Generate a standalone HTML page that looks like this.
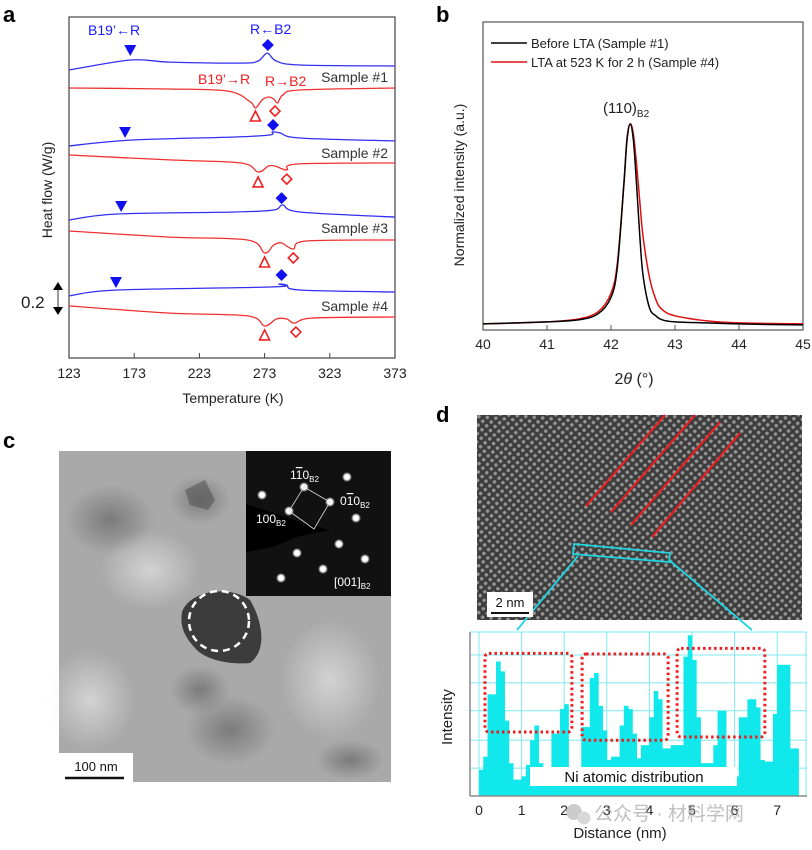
<!DOCTYPE html>
<html><head><meta charset="utf-8"><style>
html,body{margin:0;padding:0;background:#fff;}
svg{display:block;font-family:"Liberation Sans","Noto Sans CJK SC",sans-serif;}
</style></head><body>
<svg id="fig" width="812" height="850" viewBox="0 0 812 850" xmlns="http://www.w3.org/2000/svg">
<defs>
  <radialGradient id="spot"><stop offset="0" stop-color="#fff"/><stop offset="0.5" stop-color="#fff"/><stop offset="1" stop-color="#fff" stop-opacity="0"/></radialGradient>
  <pattern id="lattice" width="6" height="6" patternUnits="userSpaceOnUse" patternTransform="rotate(-40)">
    <rect width="6" height="6" fill="#3a3a3a"/><circle cx="3" cy="3" r="1.8" fill="#b8b8b8"/>
  </pattern>
  <radialGradient id="blobDark"><stop offset="0" stop-color="#555" stop-opacity="0.55"/><stop offset="1" stop-color="#555" stop-opacity="0"/></radialGradient>
  <radialGradient id="blobLight"><stop offset="0" stop-color="#eee" stop-opacity="0.6"/><stop offset="1" stop-color="#eee" stop-opacity="0"/></radialGradient>
</defs>

<text x="3" y="22" font-size="22" font-weight="bold">a</text>
<text x="436" y="22" font-size="22" font-weight="bold">b</text>
<text x="3" y="448" font-size="22" font-weight="bold">c</text>
<text x="436" y="422" font-size="22" font-weight="bold">d</text>

<g id="pa">
  <rect x="69" y="17" width="326" height="341" fill="none" stroke="#444" stroke-width="1.2"/>
  <g id="pa-ticks"></g>
  <text x="233" y="403" font-size="14" text-anchor="middle" fill="#222">Temperature (K)</text>
  <text transform="translate(52,190) rotate(-90)" font-size="14" text-anchor="middle" fill="#222">Heat flow (W/g)</text>
  <g id="pa-curves"></g>
  <g id="pa-markers"></g>
  <text x="88" y="35" font-size="14" fill="#1a1aff">B19’←R</text>
  <text x="250" y="34" font-size="14" fill="#1a1aff">R←B2</text>
  <text x="198" y="84" font-size="14" fill="#f02020">B19’→R</text>
  <text x="265" y="86" font-size="14" fill="#f02020">R→B2</text>
  <text x="388" y="82" font-size="14" text-anchor="end" fill="#333">Sample #1</text>
  <text x="388" y="158" font-size="14" text-anchor="end" fill="#333">Sample #2</text>
  <text x="388" y="233" font-size="14" text-anchor="end" fill="#333">Sample #3</text>
  <text x="388" y="311" font-size="14" text-anchor="end" fill="#333">Sample #4</text>
  <g>
    <line x1="58" y1="288" x2="58" y2="309" stroke="#333" stroke-width="1"/>
    <polygon points="53,290 63,290 58,282" fill="#000"/>
    <polygon points="53,307 63,307 58,315" fill="#000"/>
    <text x="21" y="308" font-size="17" fill="#222">0.2</text>
  </g>
</g>

<g id="pb">
  <rect x="483" y="22" width="320" height="308" fill="none" stroke="#555" stroke-width="1.2"/>
  <g id="pb-ticks"></g>
  <g id="pb-curves"></g>
  <text transform="translate(464,185) rotate(-90)" font-size="14" text-anchor="middle" fill="#222">Normalized intensity (a.u.)</text>
  <text x="634" y="384" font-size="16" text-anchor="middle" fill="#222">2<tspan font-style="italic">θ</tspan> (°)</text>
  <text x="603" y="113" font-size="15" fill="#222">(110)<tspan font-size="10" dy="4">B2</tspan></text>
  <g>
    <line x1="491" y1="43" x2="527" y2="43" stroke="#000" stroke-width="1.5"/>
    <text x="531" y="48" font-size="13" fill="#222">Before LTA (Sample #1)</text>
    <line x1="491" y1="62" x2="527" y2="62" stroke="#e01010" stroke-width="1.5"/>
    <text x="531" y="67" font-size="13" fill="#222">LTA at 523 K for 2 h (Sample #4)</text>
  </g>
</g>

<g>
  <rect x="59" y="451" width="332" height="331" fill="#a9a9a9"/>
  <ellipse cx="110" cy="520" rx="45" ry="35" fill="url(#blobDark)"/>
  <ellipse cx="200" cy="500" rx="30" ry="25" fill="url(#blobDark)"/>
  <ellipse cx="150" cy="570" rx="50" ry="40" fill="url(#blobLight)"/>
  <ellipse cx="90" cy="700" rx="45" ry="50" fill="url(#blobLight)"/>
  <ellipse cx="230" cy="730" rx="45" ry="35" fill="url(#blobDark)"/>
  <ellipse cx="330" cy="680" rx="50" ry="60" fill="url(#blobLight)"/>
  <ellipse cx="200" cy="690" rx="30" ry="25" fill="url(#blobDark)"/>
  <ellipse cx="350" cy="760" rx="35" ry="20" fill="url(#blobDark)"/>
  <polygon points="185,490 205,480 215,500 208,510 190,505" fill="#555" opacity="0.6"/>
  <path d="M182,612 C190,590 230,585 250,600 C262,620 268,650 250,663 C230,665 205,660 195,648 C183,635 180,625 182,612 Z" fill="#3c3c3c"/>
  <circle cx="219" cy="621" r="30" fill="none" stroke="#fff" stroke-width="2.5" stroke-dasharray="7,5"/>
  <g>
    <rect x="246" y="451" width="145" height="145" fill="#111"/>
    <path d="M246,504 L300,522 L330,530 L300,536 L270,548 L246,552 Z" fill="#000"/>
    <g id="spots"></g>
    <polygon points="304,487 330,502 314,529 289,511" fill="none" stroke="#ddd" stroke-width="0.8"/>
    <text x="290" y="479" font-size="12" fill="#fff">1<tspan text-decoration="overline">1</tspan>0<tspan font-size="8" dy="3">B2</tspan></text>
    <text x="340" y="505" font-size="12" fill="#fff">0<tspan text-decoration="overline">1</tspan>0<tspan font-size="8" dy="3">B2</tspan></text>
    <text x="256" y="523" font-size="12" fill="#fff">100<tspan font-size="8" dy="3">B2</tspan></text>
    <text x="334" y="586" font-size="12" fill="#fff">[001]<tspan font-size="8" dy="3">B2</tspan></text>
  </g>
  <rect x="59" y="753" width="74" height="29" fill="#fff"/>
  <text x="96" y="771" font-size="13" text-anchor="middle" fill="#111">100 nm</text>
  <line x1="65" y1="778" x2="124" y2="778" stroke="#111" stroke-width="2.5"/>
</g>

<g>
  <rect x="477" y="415" width="325" height="205" fill="url(#lattice)"/>
  <rect x="477" y="415" width="325" height="205" fill="#444" opacity="0.3"/>
  <g stroke="#e52020" stroke-width="2.2">
    <line x1="586" y1="506" x2="665" y2="415"/>
    <line x1="611" y1="512" x2="695" y2="415"/>
    <line x1="631" y1="525" x2="720" y2="422"/>
    <line x1="652" y1="537" x2="740" y2="433"/>
  </g>
  <polygon points="574,544 670,553 669,562 573,554" fill="none" stroke="#22d4e0" stroke-width="1.8"/>
  <line x1="578" y1="556" x2="517" y2="630" stroke="#22d4e0" stroke-width="1.8"/>
  <line x1="669" y1="560" x2="752" y2="630" stroke="#22d4e0" stroke-width="1.8"/>
  <rect x="487" y="592" width="46" height="25" fill="#fff"/>
  <text x="510" y="607" font-size="13" text-anchor="middle" fill="#111">2 nm</text>
  <line x1="491" y1="613" x2="529" y2="613" stroke="#111" stroke-width="2"/>
</g>

<g id="pd">
  <g id="pd-grid"></g>
  <g id="pd-bars"></g>
  <g id="pd-rects"></g>
  <line x1="470" y1="632" x2="470" y2="796" stroke="#888" stroke-width="1.5"/>
  <line x1="470" y1="796" x2="807" y2="796" stroke="#888" stroke-width="1.5"/>
  <rect x="530" y="767" width="207" height="19" fill="#fff"/>
  <text x="634" y="782" font-size="15" text-anchor="middle" fill="#111">Ni atomic distribution</text>
  <g id="pd-ticks"></g>
  <text transform="translate(452,717) rotate(-90)" font-size="15" text-anchor="middle" fill="#222">Intensity</text>
  <text x="620" y="838" font-size="15" text-anchor="middle" fill="#222">Distance (nm)</text>
</g>

<g opacity="0.75">
  <circle cx="574" cy="812" r="8" fill="#bbb"/><circle cx="584" cy="818" r="6.5" fill="#ccc"/>
  <text x="594" y="820" font-size="19" fill="#aaa">公众号 · 材料学网</text>
</g>
</svg>
<script>
const NS='http://www.w3.org/2000/svg';
const dscTicks=[123,173,223,273,323,373];
const b1T=[123,170,200,255,268,275,282,300,373];
const b1V=[1.986,2.055,2.041,2.034,2.048,2.103,2.048,2.021,2.014];
const r1T=[123,200,245,262,266,271,276,280,283,287,300,373];
const r1V=[1.862,1.855,1.841,1.766,1.724,1.779,1.800,1.786,1.759,1.814,1.848,1.862];
const b2T=[123,170,250,277,279,285,300,373];
const b2V=[1.462,1.503,1.524,1.538,1.559,1.552,1.517,1.497];
const r2T=[123,200,255,268,276,281,290,298,373];
const r2V=[1.400,1.366,1.345,1.283,1.324,1.324,1.297,1.338,1.345];
const b3T=[123,160,250,280,287,300,373];
const b3V=[0.952,0.993,1.007,1.021,1.055,1.007,0.972];
const r3T=[123,200,260,273,280,286,295,305,373];
const r3V=[0.876,0.834,0.814,0.724,0.779,0.793,0.752,0.807,0.814];
const b4T=[123,160,280,284,290,300,373];
const b4V=[0.428,0.469,0.490,0.510,0.503,0.469,0.455];
const r4T=[123,200,260,273,282,290,296,310,373];
const r4V=[0.359,0.310,0.290,0.221,0.269,0.269,0.241,0.276,0.283];
const invTriT=[170,166,163,159];
const invTriV=[2.124,1.559,1.048,0.524];
const fDiaT=[275.5,279.5,286,286];
const fDiaV=[2.159,1.607,1.103,0.572];
const oTriT=[266,268,273,273];
const oTriV=[1.669,1.214,0.662,0.159];
const oDiaT=[281,290,295,297];
const oDiaV=[1.703,1.234,0.690,0.179];
const xrdTicks=[40,41,42,43,44,45];
const tth=[40,41,41.5,41.8,42.0,42.1,42.2,42.25,42.3,42.35,42.4,42.45,42.5,42.6,42.7,42.8,43,43.5,44,45];
const intBefore=[0.02,0.03,0.04,0.07,0.15,0.3,0.7,0.92,1,0.92,0.7,0.45,0.26,0.1,0.06,0.04,0.03,0.025,0.02,0.015];
const intLTA=[0.02,0.03,0.045,0.08,0.17,0.32,0.7,0.93,1,0.95,0.8,0.62,0.45,0.25,0.14,0.09,0.06,0.035,0.025,0.02];
const profTicks=[0,1,2,3,4,5,6,7];
const binWidth=0.1;
const profVals=[1.6,2.4,6.2,6.2,8.2,7.6,4.6,2.0,1.0,1.0,1.2,1.9,3.4,4.3,2.0,1.5,1.5,3.8,3.8,5.3,5.6,1.0,0.8,0.8,4.2,4.2,7.2,7.5,5.5,4.0,2.2,2.4,2.4,4.3,5.5,5.3,3.8,2.3,3.1,3.1,4.8,6.4,5.9,2.9,2.9,3.1,3.1,3.1,8.5,9.8,8.3,4.8,2.0,2.0,2.0,3.1,5.2,5.2,1.5,1.5,1.2,4.8,4.8,5.9,5.9,5.4,2.2,2.1,2.1,5.0,8.0,8.0,8.0,2.9,2.9];
const boxX0=[0.14,2.42,4.65];
const boxX1=[2.18,4.44,6.71];
const boxY0=[3.9,3.4,3.6];
const boxY1=[8.7,8.66,9.0];
const spotX=[304,330,289,262,347,356,339,297,365,323,281];
const spotY=[487,502,511,495,477,518,544,553,559,569,578];

function el(tag,attrs,parent){const e=document.createElementNS(NS,tag);for(const k in attrs)e.setAttribute(k,attrs[k]);parent.appendChild(e);return e;}
function smooth(pts){let d='M'+pts[0][0].toFixed(1)+','+pts[0][1].toFixed(1);
  for(let i=0;i<pts.length-1;i++){const p0=pts[Math.max(0,i-1)],p1=pts[i],p2=pts[i+1],p3=pts[Math.min(pts.length-1,i+2)];
    const c1=[p1[0]+(p2[0]-p0[0])/6,p1[1]+(p2[1]-p0[1])/6],c2=[p2[0]-(p3[0]-p1[0])/6,p2[1]-(p3[1]-p1[1])/6];
    d+=' C'+c1[0].toFixed(1)+','+c1[1].toFixed(1)+' '+c2[0].toFixed(1)+','+c2[1].toFixed(1)+' '+p2[0].toFixed(1)+','+p2[1].toFixed(1);}
  return d;}

const ax=t=>69+(t-123)*326/250, ay=v=>358-v*145;
const paT=document.getElementById('pa-ticks');
dscTicks.forEach(t=>{
  const l=el('line',{x1:ax(t),x2:ax(t),y1:358,y2:353,stroke:'#444'},paT);
  
  
  const tx=el('text',{x:ax(t),y:378,'font-size':14,'text-anchor':'middle',fill:'#222'},paT);tx.textContent=t;
  
  
});
const paC=document.getElementById('pa-curves');
[[b1T,b1V,'#3030f0','blue-1'],[r1T,r1V,'#f03030','red-1'],[b2T,b2V,'#3030f0','blue-2'],[r2T,r2V,'#f03030','red-2'],
 [b3T,b3V,'#3030f0','blue-3'],[r3T,r3V,'#f03030','red-3'],[b4T,b4V,'#3030f0','blue-4'],[r4T,r4V,'#f03030','red-4']].forEach(s=>{
  const p=el('path',{d:smooth(s[0].map((t,i)=>[ax(t),ay(s[1][i])])),fill:'none',stroke:s[2],'stroke-width':1.3},paC);
  
  
});
const paM=document.getElementById('pa-markers');
invTriT.forEach((t,i)=>{const x=ax(t),y=ay(invTriV[i]);
  const m=el('polygon',{points:`${x-6},${y-5} ${x+6},${y-5} ${x},${y+6}`,fill:'#1010f0'},paM);
  
  });
fDiaT.forEach((t,i)=>{const x=ax(t),y=ay(fDiaV[i]);
  const m=el('polygon',{points:`${x},${y-6} ${x+6},${y} ${x},${y+6} ${x-6},${y}`,fill:'#1010f0'},paM);
  
  });
oTriT.forEach((t,i)=>{const x=ax(t),y=ay(oTriV[i]);
  const m=el('polygon',{points:`${x-5},${y+5} ${x+5},${y+5} ${x},${y-5}`,fill:'#fff',stroke:'#f02020','stroke-width':1.6},paM);
  
  });
oDiaT.forEach((t,i)=>{const x=ax(t),y=ay(oDiaV[i]);
  const m=el('polygon',{points:`${x},${y-5} ${x+5},${y} ${x},${y+5} ${x-5},${y}`,fill:'#fff',stroke:'#f02020','stroke-width':1.6},paM);
  
  });

const bx=t=>483+(t-40)*64, by=v=>328-v*204;
const pbT=document.getElementById('pb-ticks');
xrdTicks.forEach(t=>{
  const l=el('line',{x1:bx(t),x2:bx(t),y1:330,y2:325,stroke:'#555'},pbT);
  
  
  const tx=el('text',{x:bx(t),y:349,'font-size':14,'text-anchor':'middle',fill:'#222'},pbT);tx.textContent=t;
  
  
});
const pbC=document.getElementById('pb-curves');
[[intLTA,'#e01010','xrd-curve-lta'],[intBefore,'#000','xrd-curve-before']].forEach(s=>{
  const p=el('path',{d:smooth(tth.map((t,i)=>[bx(t),by(s[0][i])])),fill:'none',stroke:s[1],'stroke-width':1.5},pbC);
  
  
});

const sp=document.getElementById('spots');
spotX.forEach((x,i)=>{const c=el('circle',{cx:x,cy:spotY[i],r:5,fill:'url(#spot)'},sp);
  
  });

const dx=v=>479+v*42.6, dy=v=>796-v*16.4;
const g=document.getElementById('pd-grid');
for(let k=0;k<=7;k++){el('line',{x1:dx(k),x2:dx(k),y1:632,y2:796,stroke:'#7fe8f0','stroke-width':1},g);}
el('line',{x1:806,x2:806,y1:632,y2:796,stroke:'#7fe8f0','stroke-width':1},g);
[0,1.7,3.4,5.2,6.9,8.6,10].forEach(v=>{el('line',{x1:470,x2:807,y1:dy(v),y2:dy(v),stroke:'#7fe8f0','stroke-width':1},g);});
const pdB=document.getElementById('pd-bars');
profVals.forEach((v,i)=>{
  const r=el('rect',{x:dx(i*binWidth),y:dy(v),width:dx((i+1)*binWidth)-dx(i*binWidth)+0.4,height:dy(0)-dy(v),fill:'#10e8ec'},pdB);
  
  
});
const pdR=document.getElementById('pd-rects');
boxX0.forEach((x0,i)=>{
  const r=el('rect',{x:dx(x0),y:dy(boxY1[i]),width:dx(boxX1[i])-dx(x0),height:dy(boxY0[i])-dy(boxY1[i]),rx:4,fill:'none',stroke:'#ee1c1c','stroke-width':3,'stroke-dasharray':'2.5,3'},pdR);
  
  
});
const pdT=document.getElementById('pd-ticks');
profTicks.forEach(t=>{
  const tx=el('text',{x:dx(t),y:815,'font-size':14,'text-anchor':'middle',fill:'#222'},pdT);tx.textContent=t;
  
  
});
</script>
</body></html>
